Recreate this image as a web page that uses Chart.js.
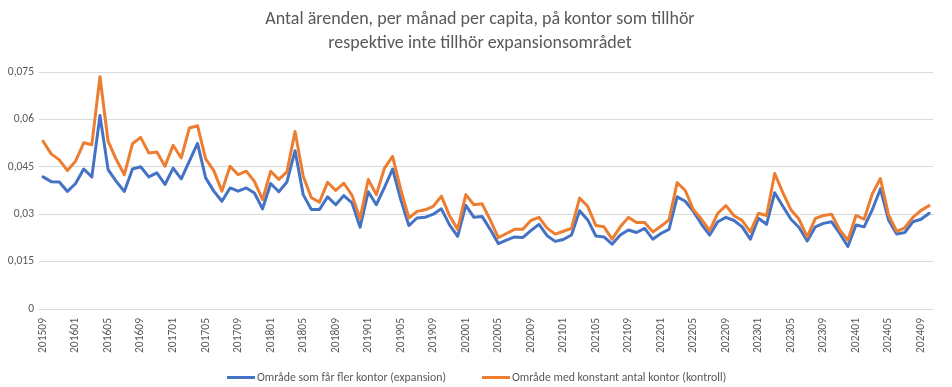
<!DOCTYPE html>
<html>
<head>
<meta charset="utf-8">
<script src="https://cdn.jsdelivr.net/npm/chart.js@4.4.1/dist/chart.umd.min.js"></script>
<style>
  html, body { margin: 0; padding: 0; background: #ffffff; }
  #wrap { position: relative; width: 952px; height: 387px; overflow: hidden; }
  #c { position: absolute; left: 0; top: 0; }
  #title { position: absolute; left: 0; top: 6px; width: 960px; text-align: center;
           font-family: Carlito, Lato, sans-serif; font-size: 18px; line-height: 24px; color: #595959; }
  #legend { position: absolute; left: 227px; top: 369px; height: 16px; display: flex; align-items: center;
            font-family: Carlito, Lato, sans-serif; font-size: 11.8px; color: #595959; white-space: nowrap; }
  .item { display: flex; align-items: center; }
  .item + .item { margin-left: 36px; }
  .swatch { width: 28px; height: 3px; margin-right: 2px; }
</style>
</head>
<body>
<div id="wrap">
  <canvas id="c" width="952" height="387"></canvas>
  <div id="title"></div>
  <div id="legend"></div>
</div>
<script>
const titleLines = [
  "Antal ärenden, per månad per capita, på kontor som tillhör",
  "respektive inte tillhör expansionsområdet"
];

const categories = [
  "201509","201510","201511","201512",
  "201601","201602","201603","201604","201605","201606","201607","201608","201609","201610","201611","201612",
  "201701","201702","201703","201704","201705","201706","201707","201708","201709","201710","201711","201712",
  "201801","201802","201803","201804","201805","201806","201807","201808","201809","201810","201811","201812",
  "201901","201902","201903","201904","201905","201906","201907","201908","201909","201910","201911","201912",
  "202001","202002","202003","202004","202005","202006","202007","202008","202009","202010","202011","202012",
  "202101","202102","202103","202104","202105","202106","202107","202108","202109","202110","202111","202112",
  "202201","202202","202203","202204","202205","202206","202207","202208","202209","202210","202211","202212",
  "202301","202302","202303","202304","202305","202306","202307","202308","202309","202310","202311","202312",
  "202401","202402","202403","202404","202405","202406","202407","202408","202409","202410"
];

const seriesNames = [
  "Område som får fler kontor (expansion)",
  "Område med konstant antal kontor (kontroll)"
];

const expansion = [
  0.0418,0.0403,0.0402,0.0372,
  0.0397,0.0443,0.0418,0.0612,0.0441,0.0404,0.0372,0.0443,0.0450,0.0418,0.0431,0.0394,
  0.0446,0.0412,0.0468,0.0524,0.0415,0.0373,0.0341,0.0383,0.0373,0.0383,0.0367,0.0317,
  0.0397,0.0371,0.0402,0.0501,0.0362,0.0315,0.0315,0.0355,0.0330,0.0359,0.0336,0.0259,
  0.0371,0.0330,0.0385,0.0443,0.0346,0.0264,0.0288,0.0290,0.0300,0.0317,0.0266,0.0230,
  0.0328,0.0290,0.0293,0.0252,0.0207,0.0218,0.0228,0.0226,0.0248,0.0268,0.0232,0.0214,
  0.0220,0.0234,0.0311,0.0282,0.0231,0.0228,0.0205,0.0234,0.0250,0.0242,0.0255,0.0221,
  0.0239,0.0252,0.0355,0.0341,0.0309,0.0268,0.0234,0.0276,0.0290,0.0280,0.0260,0.0221,
  0.0287,0.0268,0.0368,0.0325,0.0284,0.0258,0.0215,0.0260,0.0271,0.0276,0.0239,0.0198,
  0.0266,0.0260,0.0314,0.0380,0.0282,0.0237,0.0242,0.0276,0.0284,0.0303
];

const kontroll = [
  0.0531,0.0491,0.0472,0.0438,
  0.0468,0.0526,0.0520,0.0735,0.0531,0.0473,0.0425,0.0523,0.0543,0.0494,0.0497,0.0452,
  0.0518,0.0478,0.0573,0.0580,0.0475,0.0438,0.0373,0.0452,0.0425,0.0436,0.0404,0.0346,
  0.0436,0.0410,0.0434,0.0562,0.0420,0.0352,0.0338,0.0401,0.0375,0.0398,0.0360,0.0286,
  0.0410,0.0362,0.0446,0.0483,0.0378,0.0288,0.0309,0.0314,0.0325,0.0357,0.0295,0.0252,
  0.0362,0.0330,0.0333,0.0282,0.0226,0.0239,0.0252,0.0252,0.0280,0.0290,0.0256,0.0237,
  0.0246,0.0255,0.0351,0.0325,0.0264,0.0260,0.0221,0.0260,0.0290,0.0274,0.0274,0.0244,
  0.0262,0.0282,0.0400,0.0375,0.0314,0.0284,0.0248,0.0303,0.0327,0.0295,0.0280,0.0244,
  0.0303,0.0296,0.0429,0.0368,0.0314,0.0284,0.0228,0.0287,0.0296,0.0300,0.0250,0.0218,
  0.0296,0.0284,0.0364,0.0413,0.0298,0.0246,0.0257,0.0290,0.0312,0.0327
];

const yTickLabels = ["0", "0,015", "0,03", "0,045", "0,06", "0,075"];

const colors = ["#4472C4", "#ED7D31"];
const FONT = "Carlito, Lato, sans-serif";
const TXT = "#595959";

const chart = new Chart(document.getElementById("c"), {
  type: "line",
  data: {
    labels: categories,
    datasets: [
      { label: seriesNames[0], data: expansion, borderColor: colors[0], backgroundColor: colors[0],
        borderWidth: 3, pointRadius: 0, tension: 0, fill: false, order: 1,
        borderJoinStyle: "round", borderCapStyle: "round" },
      { label: seriesNames[1], data: kontroll, borderColor: colors[1], backgroundColor: colors[1],
        borderWidth: 3, pointRadius: 0, tension: 0, fill: false, order: 0,
        borderJoinStyle: "round", borderCapStyle: "round" }
    ]
  },
  options: {
    responsive: false,
    animation: false,
    devicePixelRatio: 1,
    layout: { padding: { left: 0, right: 7, top: 72, bottom: 0 } },
    plugins: {
      legend: { display: false },
      tooltip: { enabled: false },
      title: { display: false }
    },
    scales: {
      x: {
        type: "category",
        offset: true,
        grid: { display: false, drawTicks: false },
        border: { display: false },
        ticks: {
          autoSkip: false, maxRotation: 90, minRotation: 90, padding: 9,
          color: TXT, font: { family: FONT, size: 11.5 },
          callback: function (val, idx) { return idx % 4 === 0 ? categories[idx] : ""; }
        },
        afterFit: function (s) { s.height = 78; }
      },
      y: {
        min: 0, max: 0.075,
        grid: { color: "#D9D9D9", lineWidth: 1, drawTicks: false },
        border: { display: false },
        ticks: {
          stepSize: 0.015, padding: 5, color: TXT, font: { family: FONT, size: 11.5 },
          callback: function (val, idx) { return yTickLabels[idx]; }
        },
        afterFit: function (s) { s.width = 39; }
      }
    }
  }
});

const tl = document.getElementById("title");
titleLines.forEach(function (t) {
  const d = document.createElement("div");
  d.textContent = t;
  tl.appendChild(d);
});

const lg = document.getElementById("legend");
chart.data.datasets.forEach(function (ds) {
  const it = document.createElement("div");
  it.className = "item";
  const sw = document.createElement("span");
  sw.className = "swatch";
  sw.style.background = ds.borderColor;
  const tx = document.createElement("span");
  tx.textContent = ds.label;
  it.appendChild(sw); it.appendChild(tx);
  lg.appendChild(it);
});
</script>
</body>
</html>
